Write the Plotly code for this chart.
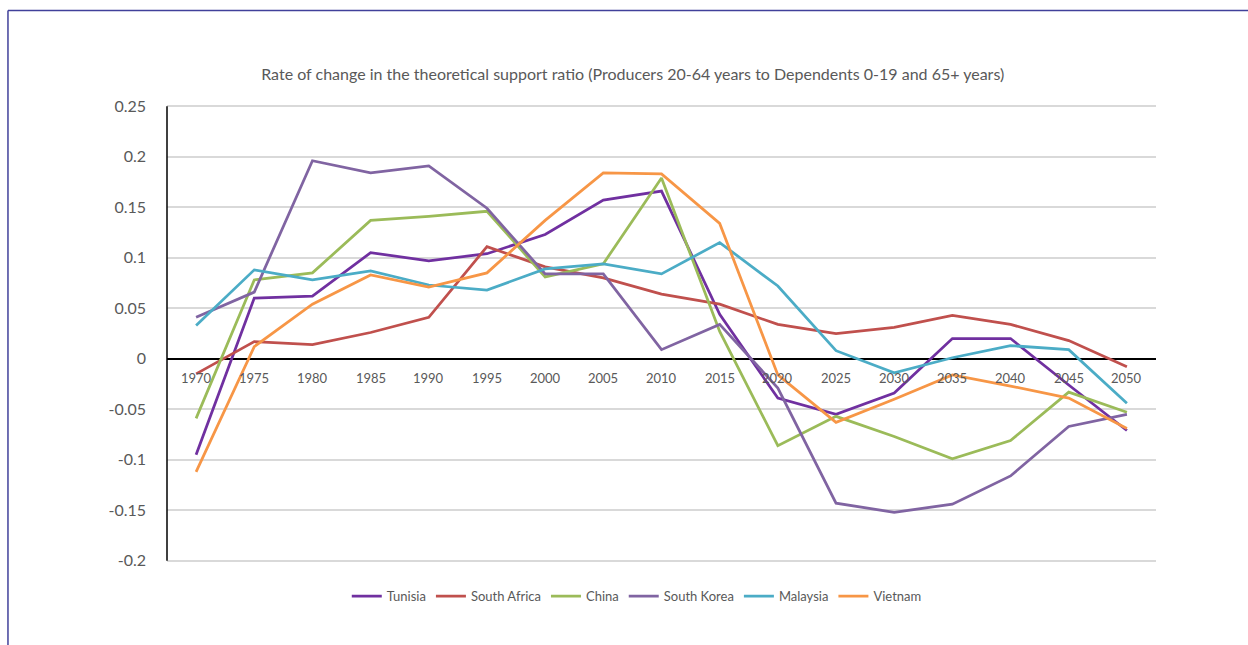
import plotly.graph_objects as go

# Census years (category axis)
years = ["1970", "1975", "1980", "1985", "1990", "1995", "2000", "2005", "2010",
         "2015", "2020", "2025", "2030", "2035", "2040", "2045", "2050"]

# Rate of change in the theoretical support ratio, by country
tunisia = [-0.095, 0.060, 0.062, 0.105, 0.097, 0.104, 0.123, 0.157, 0.166,
           0.044, -0.039, -0.055, -0.034, 0.020, 0.020, -0.026, -0.071]
south_africa = [-0.015, 0.017, 0.014, 0.026, 0.041, 0.111, 0.091, 0.080, 0.064,
                0.054, 0.034, 0.025, 0.031, 0.043, 0.034, 0.018, -0.008]
china = [-0.059, 0.078, 0.085, 0.137, 0.141, 0.146, 0.081, 0.094, 0.179,
         0.027, -0.086, -0.057, -0.077, -0.099, -0.081, -0.033, -0.053]
south_korea = [0.041, 0.066, 0.196, 0.184, 0.191, 0.149, 0.084, 0.084, 0.009,
               0.034, -0.029, -0.143, -0.152, -0.144, -0.116, -0.067, -0.055]
malaysia = [0.033, 0.088, 0.078, 0.087, 0.073, 0.068, 0.089, 0.094, 0.084,
            0.115, 0.072, 0.008, -0.014, 0.001, 0.013, 0.009, -0.044]
vietnam = [-0.112, 0.012, 0.054, 0.083, 0.071, 0.085, 0.137, 0.184, 0.183,
           0.134, -0.016, -0.063, -0.040, -0.016, -0.027, -0.039, -0.069]

series_names = ["Tunisia", "South Africa", "China", "South Korea", "Malaysia", "Vietnam"]
series_values = [tunisia, south_africa, china, south_korea, malaysia, vietnam]
series_colors = ["#7030A0", "#C0504D", "#9BBB59", "#8064A2", "#4BACC6", "#F79646"]

y_tickvals = [0.25, 0.2, 0.15, 0.1, 0.05, 0, -0.05, -0.1, -0.15, -0.2]
y_ticktext = ["0.25", "0.2", "0.15", "0.1", "0.05", "0", "-0.05", "-0.1", "-0.15", "-0.2"]

title_text = ("Rate of change in the theoretical support ratio "
              "(Producers 20-64 years to Dependents 0-19 and 65+ years)")

FONT = "Lato"
GREY = "#595959"

fig = go.Figure()
for name, vals, color in zip(series_names, series_values, series_colors):
    fig.add_trace(go.Scatter(
        x=years, y=vals, name=name, mode="lines",
        line=dict(color=color, width=2.75),
    ))

# Year labels sit just under the zero line (positioned by category index)
for idx, yr in enumerate(years):
    fig.add_annotation(
        x=idx, y=0, xref="x", yref="y", text=yr, showarrow=False,
        yshift=-19, font=dict(family=FONT, size=13, color=GREY),
    )

fig.update_layout(
    width=1248, height=645,
    margin=dict(l=167, r=92, t=105, b=83),
    paper_bgcolor="white", plot_bgcolor="white",
    title=dict(text=title_text, x=0.507, xanchor="center", y=1 - 74 / 645,
               yanchor="middle", font=dict(family=FONT, size=16, color=GREY)),
    font=dict(family=FONT, color=GREY),
    showlegend=True,
    legend=dict(orientation="h", x=0.475, xanchor="center", y=-0.075,
                yanchor="middle", font=dict(family=FONT, size=13, color=GREY),
                itemwidth=30, tracegroupgap=0),
    xaxis=dict(type="category", range=[-0.5, len(years) - 0.5],
               showticklabels=False, showgrid=False,
               zeroline=False, showline=False, ticks=""),
    yaxis=dict(range=[-0.2012, 0.2512], tickvals=y_tickvals, ticktext=y_ticktext,
               showgrid=True, gridcolor="#D9D9D9", gridwidth=1.5,
               zeroline=True, zerolinecolor="black", zerolinewidth=1.5,
               showline=False, ticks="",
               tickfont=dict(family=FONT, size=16, color=GREY),
               ticklabelstandoff=20),
    shapes=[
        # Vertical value axis line spanning the tick range
        dict(type="line", xref="paper", yref="y",
             x0=0, x1=0, y0=-0.2, y1=0.25,
             line=dict(color="black", width=1.5)),
        # Frame around the chart (top and left edges)
        dict(type="line", xref="paper", yref="paper",
             x0=-0.1608, x1=1.2, y0=1.2066, y1=1.2066,
             line=dict(color="#40409A", width=1.5)),
        dict(type="line", xref="paper", yref="paper",
             x0=-0.1608, x1=-0.1608, y0=1.2066, y1=-0.3,
             line=dict(color="#40409A", width=1.5)),
    ],
)

fig.write_html("out.html")
